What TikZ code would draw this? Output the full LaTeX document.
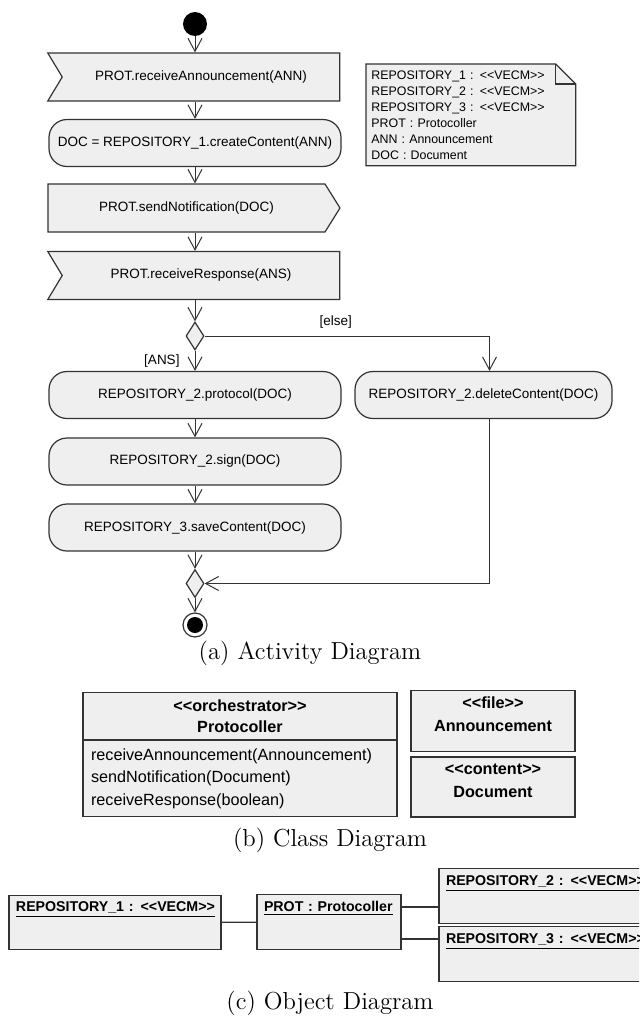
\documentclass[tikz,border=0pt]{standalone}
\usepackage{fontspec}
\newfontfamily\umlsans{Liberation Sans}
\usetikzlibrary{arrows.meta,shapes.symbols,shapes.geometric,positioning}
\pgfdeclarelayer{background}
\pgfsetlayers{background,main}
\definecolor{umlgray}{HTML}{EFEFEF}
\definecolor{umlline}{HTML}{333333}
\newcommand{\actfont}{\umlsans\fontsize{6.75pt}{8pt}\selectfont}
\newcommand{\notefont}{\umlsans\fontsize{6.2pt}{8pt}\selectfont}
\newcommand{\classfont}{\umlsans\bfseries\fontsize{8.1pt}{10.5pt}\selectfont}
\newcommand{\opsfont}{\umlsans\fontsize{8.1pt}{11.25pt}\selectfont}
\newcommand{\objfont}{\umlsans\bfseries\fontsize{7.1pt}{8.5pt}\selectfont}

\tikzset{
  umlbox/.style={draw=umlline, fill=umlgray, line width=0.6pt},
  action/.style={umlbox, rounded corners=9pt, minimum width=146pt, minimum height=23.5pt, font=\actfont},
  recvsig/.style={umlbox, signal, signal from=west, signal to=nowhere, signal pointer angle=118, minimum width=146pt, minimum height=24pt, font=\actfont},
  sendsig/.style={umlbox, signal, signal to=east, signal from=nowhere, signal pointer angle=116, minimum width=146pt, minimum height=24pt, font=\actfont},
  branch/.style={umlbox, diamond, inner sep=0pt, minimum width=9pt, minimum height=14pt},
  flow/.style={draw=umlline, line width=0.5pt, -{Straight Barb[length=6.5pt,width=7pt]}},
  guard/.style={font=\actfont, inner sep=1.5pt},
  notetext/.style={anchor=north west, font=\notefont, align=left, text width=99.5pt, inner xsep=2.5pt, inner ysep=0pt, minimum height=50.5pt},
  classbox/.style={umlbox, font=\classfont, minimum width=157pt},
  objbox/.style={umlbox, font=\objfont, align=left, inner xsep=3.5pt, text depth=15.5pt, minimum height=26.5pt},
  assoc/.style={draw=umlline, line width=0.6pt},
  caption/.style={font=\fontsize{12.3pt}{15pt}\selectfont},
}

\begin{document}
\begin{tikzpicture}[x=0.5pt, y=-0.5pt]
  \useasboundingbox (0,0) rectangle (639,1017);
  \clip (0,0) rectangle (639,1017);

  % activity diagram
  \node[circle, fill=black, inner sep=0pt, minimum size=12pt] (start) at (195,24) {};
  \node[recvsig] (recvann) at (201,77) {PROT.receiveAnnouncement(ANN)};
  \node[action] (create) at (195,143) {DOC = REPOSITORY\_1.createContent(ANN)};
  \node[sendsig] (notify) at (186.5,208) {PROT.sendNotification(DOC)};
  \node[recvsig] (recvans) at (201,275.5) {PROT.receiveResponse(ANS)};
  \node[branch] (decide) at (195,336) {};
  \node[action] (protocol) at (195,395) {REPOSITORY\_2.protocol(DOC)};
  \node[action, minimum width=128.5pt] (delete) at (483.5,395) {REPOSITORY\_2.deleteContent(DOC)};
  \node[action] (sign) at (195,461.5) {REPOSITORY\_2.sign(DOC)};
  \node[action] (save) at (195,527.5) {REPOSITORY\_3.saveContent(DOC)};
  \node[branch] (merge) at (195,583.5) {};
  \node[circle, draw=umlline, line width=0.6pt, inner sep=0pt, minimum size=12pt,
        path picture={\fill[black] (path picture bounding box.center) circle (4pt);}] (stop) at (195,625) {};

  \draw[flow] (start) -- (start |- recvann.north);
  \draw[flow] (start |- recvann.south) -- (create);
  \draw[flow] (create) -- (create.south |- notify.north);
  \draw[flow] (create.south |- notify.south) -- (create.south |- recvans.north);
  \draw[flow] (create.south |- recvans.south) -- (decide);
  \draw[flow] (decide) -- node[guard, left=6pt] {[ANS]} (protocol);
  \draw[flow] (decide.east) -| node[guard, above=2pt, pos=0.23] {[else]} ([xshift=3pt]delete.north);
  \draw[flow] (protocol) -- (sign);
  \draw[flow] (sign) -- (save);
  \draw[flow] (save) -- (merge);
  \draw[flow] (merge) -- (stop);
  \draw[flow] ([xshift=3pt]delete.south) |- (merge);

  % note with the instances
  \node[notetext] (vars) at (366,64) {REPOSITORY\_1 : <{}<VECM>{}>\\REPOSITORY\_2 : <{}<VECM>{}>\\REPOSITORY\_3 : <{}<VECM>{}>\\PROT : Protocoller\\ANN : Announcement\\DOC : Document};
  \begin{pgfonlayer}{background}
    \filldraw[umlbox] (vars.north west) -- ([xshift=-10pt]vars.north east) -- ([yshift=-10pt]vars.north east)
      -- (vars.south east) -- (vars.south west) -- cycle;
    \draw[umlline, line width=0.6pt] ([xshift=-10pt]vars.north east) |- ([yshift=-10pt]vars.north east);
  \end{pgfonlayer}

  \node[caption] (capa) at (310,653) {(a) Activity Diagram};

  % class diagram
  \node[classbox, minimum height=23pt, align=center] (protohead) at (240,716) {<{}<orchestrator>{}>\\Protocoller};
  \node[classbox, below=0pt of protohead, minimum height=38pt, align=left, text width=149pt, inner xsep=4pt, font=\opsfont] (protoops)
    {receiveAnnouncement(Announcement)\\sendNotification(Document)\\receiveResponse(boolean)};
  \node[classbox, minimum width=82pt, minimum height=30pt, align=center, text depth=6.5pt,
        font=\umlsans\bfseries\fontsize{8.1pt}{11.5pt}\selectfont] (annclass) at (493,721) {<{}<file>{}>\\Announcement};
  \node[classbox, minimum width=82pt, minimum height=30pt, align=center, text depth=6.5pt,
        font=\umlsans\bfseries\fontsize{8.1pt}{11.5pt}\selectfont] (docclass) at (493,787) {<{}<content>{}>\\Document};

  \node[caption] (capb) at (330,840) {(b) Class Diagram};

  % object diagram
  \node[objbox, text width=99pt] (repone) at (115,922.5) {\underline{REPOSITORY\_1 : <{}<VECM>{}>}};
  \node[objbox, text width=65pt, minimum height=26pt] (prot) at (329,922) {\underline{PROT : Protocoller}};
  \node[objbox, text width=99pt, minimum height=26pt] (reptwo) at (545,896) {\underline{REPOSITORY\_2 : <{}<VECM>{}>}};
  \node[objbox, text width=99pt, minimum height=26pt] (repthree) at (545,954) {\underline{REPOSITORY\_3 : <{}<VECM>{}>}};

  \draw[assoc] (repone) -- (prot);
  \draw[assoc] ([yshift=7.5pt]prot.east) -- ([yshift=7.5pt]prot.east -| reptwo.west);
  \draw[assoc] ([yshift=-8.5pt]prot.east) -- ([yshift=-8.5pt]prot.east -| repthree.west);

  \node[caption] (capc) at (330,1003) {(c) Object Diagram};
\end{tikzpicture}
\end{document}
